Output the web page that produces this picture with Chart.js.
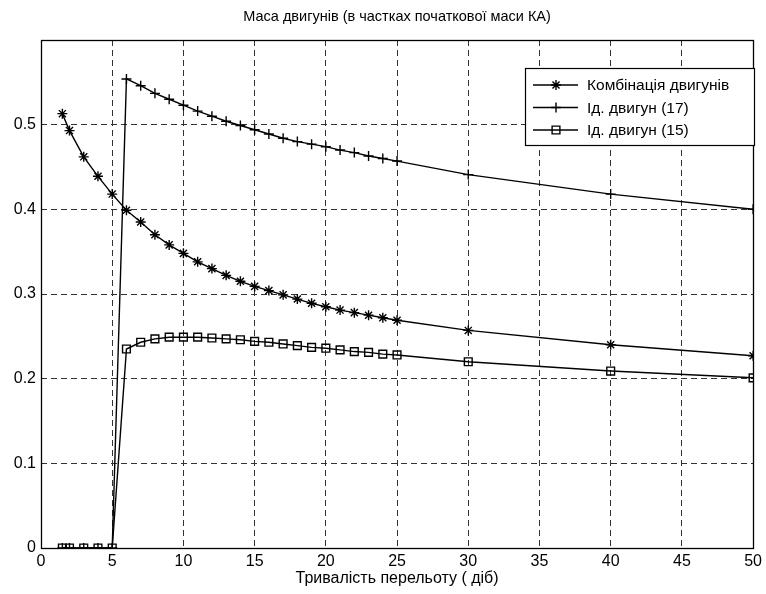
<!DOCTYPE html>
<html>
<head>
<meta charset="utf-8">
<script src="https://cdn.jsdelivr.net/npm/chart.js@4.4.0/dist/chart.umd.min.js"></script>
<style>
  html, body { margin: 0; padding: 0; background: #fff; }
  #wrap { width: 766px; height: 594px; }
</style>
</head>
<body>
<div id="wrap"><canvas id="myChart" width="766" height="594"></canvas></div>
<script>
'use strict';

// flight duration (days)
let durations = [1.5, 2, 3, 4, 5, 6, 7, 8, 9, 10, 11, 12, 13, 14, 15, 16, 17, 18, 19, 20, 21, 22, 23, 24, 25, 30, 40, 50];

let comboMass = [0.513, 0.493, 0.462, 0.439, 0.418, 0.399, 0.385, 0.370, 0.358, 0.348,
  0.338, 0.330, 0.322, 0.315, 0.309, 0.304, 0.299, 0.294, 0.289, 0.285,
  0.281, 0.278, 0.275, 0.272, 0.269, 0.257, 0.240, 0.227];

let engine17Mass = [0, 0, 0, 0, 0, 0.554, 0.546, 0.537, 0.530, 0.523,
  0.516, 0.510, 0.504, 0.499, 0.494, 0.489, 0.484, 0.480, 0.477, 0.474,
  0.470, 0.467, 0.463, 0.460, 0.457, 0.441, 0.418, 0.400];

let engine15Mass = [0, 0, 0, 0, 0, 0.235, 0.243, 0.247, 0.249, 0.249,
  0.249, 0.248, 0.247, 0.246, 0.244, 0.243, 0.241, 0.239, 0.237, 0.236,
  0.234, 0.232, 0.231, 0.229, 0.228, 0.220, 0.209, 0.201];

let chartTitle = 'Маса двигунів (в частках початкової маси КА)';
let seriesNames = ['Комбінація двигунів', 'Ід. двигун (17)', 'Ід. двигун (15)'];
let xTicks = [0, 5, 10, 15, 20, 25, 30, 35, 40, 45, 50];
let yTicks = [0, 0.1, 0.2, 0.3, 0.4, 0.5];

const FONT = '"Liberation Sans", Arial, sans-serif';

function toPoints(values) {
  return durations.map(function (d, i) { return { x: d, y: values[i] }; });
}

function makeSet(label, values, style, radius) {
  return {
    label: label,
    data: toPoints(values),
    borderColor: '#000',
    borderWidth: 1.4,
    pointStyle: style,
    pointRadius: radius,
    pointHoverRadius: radius,
    pointBorderColor: '#000',
    pointBackgroundColor: 'rgba(0,0,0,0)',
    pointBorderWidth: 1.4,
    tension: 0,
    fill: false
  };
}

// box around the axes, title over the axes and legend in the upper right, like matlab draws it
let boxAndLegend = {
  id: 'boxAndLegend',
  afterDatasetsDraw(chart) {
    let ctx = chart.ctx;
    let a = chart.chartArea;
    ctx.save();
    ctx.strokeStyle = '#000';
    ctx.lineWidth = 1.3;
    ctx.setLineDash([]);
    ctx.strokeRect(Math.round(a.left) + 0.5, Math.round(a.top) + 0.5,
      Math.round(a.right - a.left), Math.round(a.bottom - a.top));

    ctx.fillStyle = '#000';
    ctx.font = '14.5px ' + FONT;
    ctx.textAlign = 'center';
    ctx.textBaseline = 'middle';
    ctx.fillText(chartTitle, (a.left + a.right) / 2, 17);

    let bx = 525, by = 68, bw = 229, bh = 77;
    ctx.fillStyle = '#fff';
    ctx.fillRect(bx, by, bw, bh);
    ctx.lineWidth = 1.2;
    ctx.strokeRect(bx + 0.5, by + 0.5, bw, bh);

    ctx.font = '15.5px ' + FONT;
    ctx.textAlign = 'left';
    chart.data.datasets.forEach(function (ds, i) {
      let y = by + 17 + i * 22.5;
      ctx.beginPath();
      ctx.moveTo(533, y);
      ctx.lineTo(578, y);
      ctx.strokeStyle = '#000';
      ctx.lineWidth = 1.4;
      ctx.stroke();
      ctx.fillStyle = 'rgba(0,0,0,0)';
      Chart.helpers.drawPoint(ctx, {
        pointStyle: ds.pointStyle,
        radius: ds.pointRadius,
        rotation: 0,
        borderWidth: 1.4
      }, 556, y);
      ctx.fillStyle = '#000';
      ctx.fillText(ds.label, 587, y + 1);
    });
    ctx.restore();
  }
};

let ctx = document.getElementById('myChart').getContext('2d');
let myChart = new Chart(ctx, {
  type: 'line',
  data: {
    datasets: [
      makeSet(seriesNames[0], comboMass, 'star', 5),
      makeSet(seriesNames[1], engine17Mass, 'cross', 5),
      makeSet(seriesNames[2], engine15Mass, 'rect', 5.5)
    ]
  },
  options: {
    responsive: false,
    animation: false,
    layout: { padding: { left: 0, right: 11, top: 40, bottom: 0 } },
    plugins: {
      legend: { display: false },
      tooltip: { enabled: false },
      title: { display: false }
    },
    scales: {
      x: {
        type: 'linear',
        min: 0,
        max: 50,
        afterFit(scale) { scale.height = 46; },
        afterBuildTicks(scale) { scale.ticks = xTicks.map(function (v) { return { value: v }; }); },
        ticks: {
          color: '#000',
          padding: 4,
          maxRotation: 0,
          font: { family: FONT, size: 16 },
          callback: function (v) { return String(v); }
        },
        grid: { color: '#333', lineWidth: 1, drawTicks: false },
        border: { display: false, dash: [6, 4] },
        title: {
          display: true,
          text: 'Тривалість перельоту ( діб)',
          color: '#000',
          font: { family: FONT, size: 16 },
          padding: { top: 0, bottom: 6 }
        }
      },
      y: {
        type: 'linear',
        min: 0,
        max: 0.6,
        afterFit(scale) { scale.width = 41; },
        afterBuildTicks(scale) { scale.ticks = yTicks.map(function (v) { return { value: v }; }); },
        ticks: {
          color: '#000',
          padding: 5,
          font: { family: FONT, size: 16 },
          callback: function (v) { return v === 0 ? '0' : v.toFixed(1); }
        },
        grid: { color: '#333', lineWidth: 1, drawTicks: false },
        border: { display: false, dash: [6, 4] }
      }
    }
  },
  plugins: [boxAndLegend]
});
</script>
</body>
</html>
